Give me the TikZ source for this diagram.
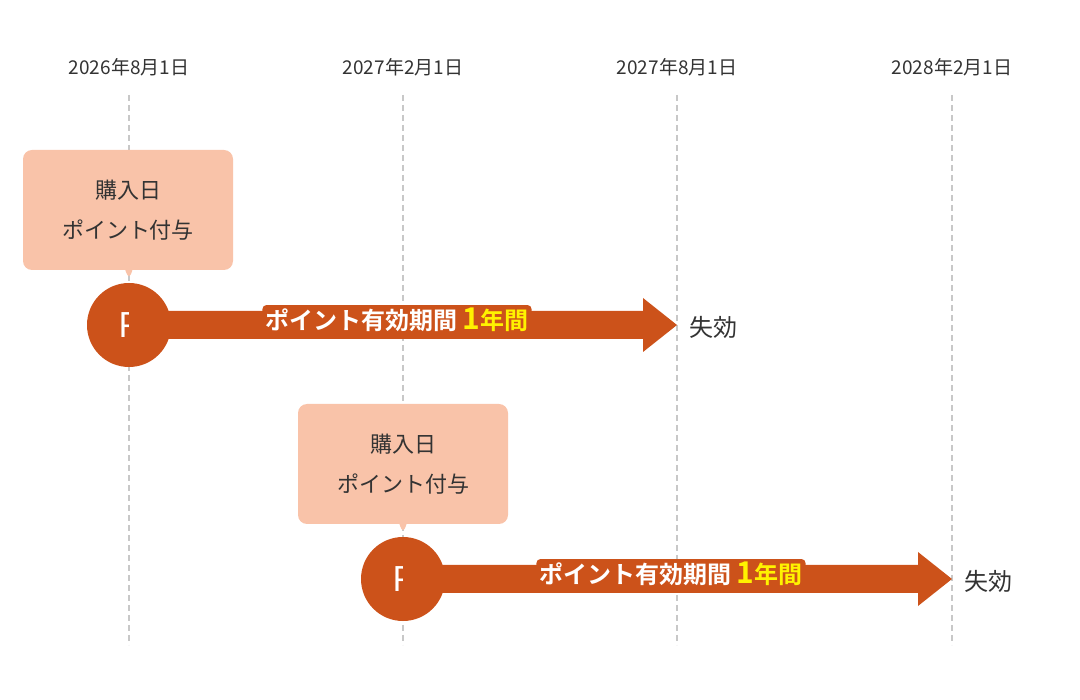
\documentclass[tikz,border=0pt]{standalone}
\usepackage{fontspec}
\setmainfont{Noto Sans CJK JP}[BoldFont={Noto Sans CJK JP Bold}]
\usetikzlibrary{positioning,shapes.callouts}
\definecolor{pointorange}{HTML}{CC521A}
\definecolor{calloutpink}{HTML}{F9C3A9}
\definecolor{gridgray}{HTML}{C8C8C8}
\definecolor{textdark}{HTML}{333333}
\definecolor{textyellow}{HTML}{FFF200}
\begin{document}
\begin{tikzpicture}[x=1pt,y=-1pt,
        date/.style={text=textdark,font=\fontsize{19}{19}\selectfont},
        grid/.style={gridgray,line width=1.4pt,dash pattern=on 6pt off 4pt},
        balloon/.style={rectangle callout,fill=calloutpink,rounded corners=9pt,
            minimum width=210pt,minimum height=120pt,text=textdark,align=center,
            font=\fontsize{22}{40}\selectfont},
        pdot/.style={circle,fill=pointorange,minimum size=84pt,inner sep=0pt,
            text=white,font=\fontsize{34}{34}\selectfont},
        period/.style={fill=pointorange,rounded corners=4pt,inner sep=3pt,text=white,
            font=\bfseries\fontsize{24}{24}\selectfont},
        lapse/.style={text=textdark,anchor=west,font=\fontsize{24}{24}\selectfont}]
    \path[use as bounding box] (0,0) rectangle (1080,700);
    % dates and grid lines
    \foreach \x/\d [count=\i] in {129/2026年8月1日,403/2027年2月1日,677/2027年8月1日,952/2028年2月1日}{
        \node[date] (d\i) at (\x,67) {\d};
        \coordinate (g\i) at (\x,645);
        \draw[grid] (\x,95) -- (g\i);
    }
    % first purchase
    \node[balloon,callout absolute pointer={(129,281)}] (b1) at (128,210) {購入日\\ポイント付与};
    \node[pdot] (p1) at (129,325) {P};
    \fill[pointorange] (p1.center) ++(0,-14) -- (643,311) -- (643,298) -- (677,325)
        -- (643,352) -- (643,339) -- (129,339) -- cycle;
    \node[period] (t1) at (397,320) {ポイント有効期間 \textcolor{textyellow}{\fontsize{30}{30}\selectfont 1}\textcolor{textyellow}{年間}};
    \node[lapse] (x1) at (686,327) {失効};
    % second purchase
    \node[balloon,callout absolute pointer={(403,535)}] (b2) at (403,464) {購入日\\ポイント付与};
    \node[pdot] (p2) at (403,579) {P};
    \fill[pointorange] (p2.center) ++(0,-14) -- (918,565) -- (918,552) -- (952,579)
        -- (918,606) -- (918,593) -- (403,593) -- cycle;
    \node[period] (t2) at (671,574) {ポイント有効期間 \textcolor{textyellow}{\fontsize{30}{30}\selectfont 1}\textcolor{textyellow}{年間}};
    \node[lapse] (x2) at (961,581) {失効};
\end{tikzpicture}
\end{document}
